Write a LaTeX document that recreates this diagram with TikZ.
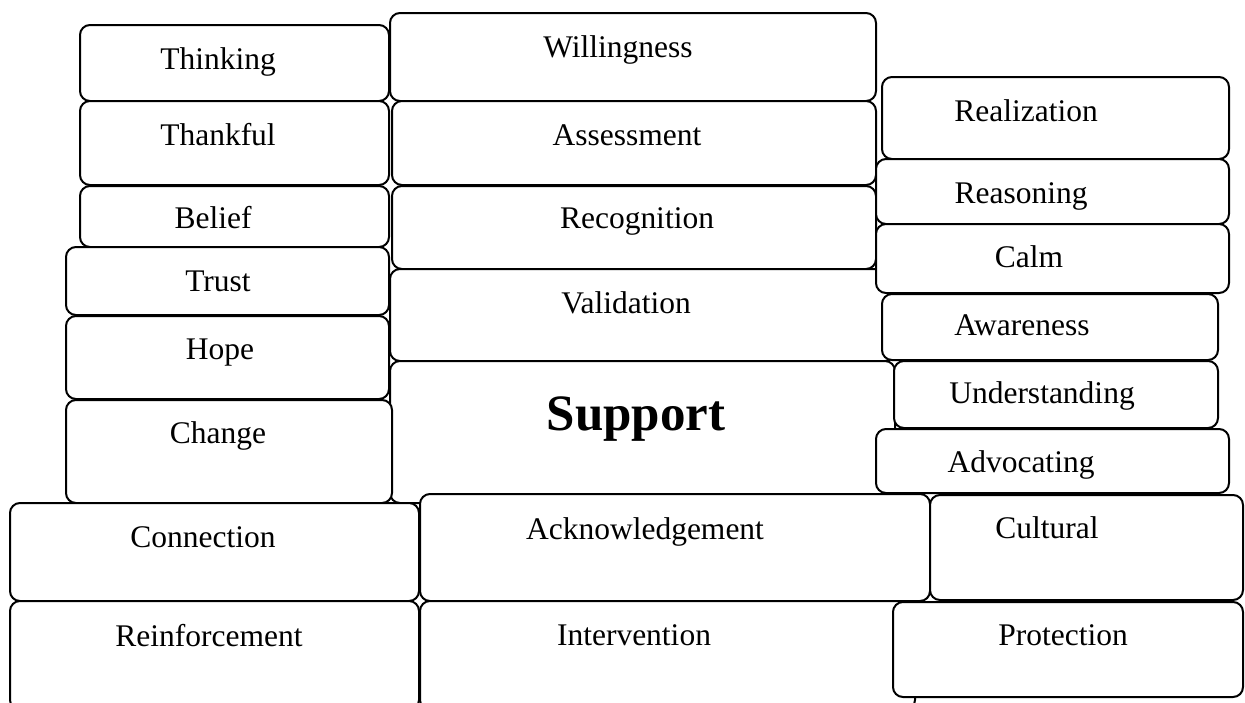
\documentclass[tikz,border=0pt]{standalone}
\usepackage{fontspec}
\setmainfont{Liberation Serif}
\newcommand\rbox[5]{\node[box, minimum width={#4-#2}, minimum height={#5-#3}] (#1) at ({(#2+#4)/2},{(#3+#5)/2}) {};}
\begin{document}
\begin{tikzpicture}[x=1pt,y=-1pt,
  box/.style={draw=black, fill=white, line width=2pt, rounded corners=10pt, inner sep=0pt, outer sep=0pt, rectangle},
  lbl/.style={anchor=base, inner sep=0pt, font=\fontsize{31.5}{36}\selectfont},
  big/.style={anchor=base, inner sep=0pt, font=\fontsize{51}{56}\selectfont\bfseries}]
\useasboundingbox (0,0) rectangle (1245,702);
\clip (0,0) rectangle (1245,702);
% middle column
\rbox{willingness}{390}{13}{876}{101}
\rbox{assessment}{392}{101}{876}{185}
\rbox{recognition}{392}{186}{876}{269}
\rbox{validation}{390}{269}{895}{361}
\rbox{support}{390}{361}{895}{503}
% left column
\rbox{thinking}{80}{25}{389}{101}
\rbox{thankful}{80}{101}{389}{185}
\rbox{belief}{80}{186}{389}{247}
\rbox{trust}{66}{247}{389}{315}
\rbox{hope}{66}{316}{389}{399}
\rbox{change}{66}{400}{392}{503}
% right column
\rbox{realization}{882}{77}{1229}{159}
\rbox{reasoning}{876}{159}{1229}{224}
\rbox{calm}{876}{224}{1229}{293}
\rbox{awareness}{882}{294}{1218}{360}
\rbox{understanding}{894}{361}{1218}{428}
\rbox{advocating}{876}{429}{1229}{493}
% bottom rows
\rbox{connection}{10}{503}{419}{601}
\rbox{acknowledgement}{420}{494}{930}{601}
\rbox{cultural}{930}{495}{1243}{600}
\rbox{reinforcement}{10}{601}{419}{710}
\rbox{intervention}{420}{601}{915}{710}
\rbox{protection}{893}{602}{1243}{697}
% labels
\node[lbl] (tThinking) at (218,69) {Thinking};
\node[lbl] (tThankful) at (218,145) {Thankful};
\node[lbl] (tBelief) at (213,228) {Belief};
\node[lbl] (tTrust) at (218,291) {Trust};
\node[lbl] (tHope) at (220,359) {Hope};
\node[lbl] (tChange) at (218,443) {Change};
\node[lbl] (tConnection) at (203,547) {Connection};
\node[lbl] (tReinforcement) at (209,646) {Reinforcement};
\node[lbl] (tWillingness) at (618,57) {Willingness};
\node[lbl] (tAssessment) at (627,145) {Assessment};
\node[lbl] (tRecognition) at (637,228) {Recognition};
\node[lbl] (tValidation) at (626,313) {Validation};
\node[big] (tSupport) at (636,430) {Support};
\node[lbl] (tAcknowledgement) at (645,539) {Acknowledgement};
\node[lbl] (tIntervention) at (634,645) {Intervention};
\node[lbl] (tRealization) at (1026,121) {Realization};
\node[lbl] (tReasoning) at (1021,203) {Reasoning};
\node[lbl] (tCalm) at (1029,267) {Calm};
\node[lbl] (tAwareness) at (1022,335) {Awareness};
\node[lbl] (tUnderstanding) at (1042,403) {Understanding};
\node[lbl] (tAdvocating) at (1021,472) {Advocating};
\node[lbl] (tCultural) at (1047,538) {Cultural};
\node[lbl] (tProtection) at (1063,645) {Protection};
\end{tikzpicture}
\end{document}
